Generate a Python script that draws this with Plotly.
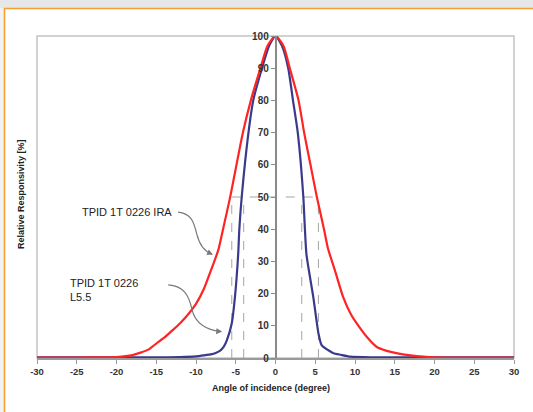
import plotly.graph_objects as go

# ---- data ----
ira_x = [-30, -25, -22, -20, -18, -16, -15, -14, -13, -12, -11, -10, -9, -8, -7.2, -6.6, -5.7,
         -4.1, -3.1, -1.9, -1, 0, 1, 1.8, 2.9, 3.6, 4.4, 5.2, 6.1, 6.6, 7.5, 8.5, 9.5,
         10.2, 11.5, 12.7, 14, 15.2, 17, 18.6, 20, 25, 30]
ira_y = [0.1, 0.15, 0.2, 0.3, 0.9, 2.6, 4.5, 6.3, 8.5, 10.8, 13.5, 16.8, 21.5, 28, 33.5, 40, 50,
         70, 80, 90, 97, 100, 97, 90, 80, 70, 60, 50, 40, 34, 27, 19, 13.5,
         10.8, 6.5, 3.5, 2.2, 1.5, 0.8, 0.4, 0.2, 0.1, 0.1]

l55_x = [-30, -20, -15, -12, -10, -9, -8, -7.6, -7, -6.5, -6.1, -5.5, -5.1, -4.7, -4.55, -4.25,
         -3.4, -2.8, -1.7, -0.8, 0, 0.8, 1.6, 2.2, 2.8, 3.5, 3.7, 3.9, 4.75, 5.4, 5.8, 6.9,
         7.3, 8.2, 9.4, 12, 20, 30]
l55_y = [0.2, 0.2, 0.2, 0.3, 0.5, 0.8, 1.2, 1.5, 2.2, 3.5, 5.6, 10.8, 19, 32, 40, 50,
         70, 80, 90, 97, 100, 97, 90, 80, 70, 50, 40, 32, 19, 7.7, 4, 2,
         1.5, 1, 0.4, 0.2, 0.2, 0.2]

half_level = 50
half_x = [-5.5, -4.0, 3.3, 5.4]

x_ticks = list(range(-30, 31, 5))
y_ticks = list(range(0, 101, 10))

label_ira = "TPID 1T 0226 IRA"
label_l55 = "TPID 1T 0226<br>L5.5"
x_title = "Angle of incidence (degree)"
y_title = "Relative Responsivity [%]"

# ---- figure ----
W, H = 533, 412
ML, MR, MT, MB = 37, 19, 36, 54
PW, PH = W - ML - MR, H - MT - MB


def px(xp):
    return (xp - ML) / PW


def py(yp):
    return 1 - (yp - MT) / PH


fig = go.Figure()

fig.add_trace(go.Scatter(x=l55_x, y=l55_y, mode="lines",
                         line=dict(color="#3a3a8c", width=2.2, shape="spline", smoothing=0.6),
                         hoverinfo="skip", showlegend=False))
fig.add_trace(go.Scatter(x=ira_x, y=ira_y, mode="lines",
                         line=dict(color="#ff2424", width=2.2, shape="spline", smoothing=0.6),
                         hoverinfo="skip", showlegend=False))

shapes = []
# outer page background pieces
shapes.append(dict(type="rect", xref="paper", yref="paper", layer="below",
                   x0=px(-50), x1=px(600), y0=py(-50), y1=py(8.5),
                   fillcolor="#e6e7e9", line=dict(width=0)))
shapes.append(dict(type="rect", xref="paper", yref="paper", layer="below",
                   x0=px(-50), x1=px(4.5), y0=py(8.5), y1=py(700),
                   fillcolor="#f2f2f2", line=dict(width=0)))
shapes.append(dict(type="rect", xref="paper", yref="paper", layer="below",
                   x0=px(4.5), x1=px(700), y0=py(8.5), y1=py(700),
                   fillcolor="white", line=dict(color="#f5a030", width=1.6)))
# plot frame
shapes.append(dict(type="rect", xref="paper", yref="paper", layer="below",
                   x0=0, x1=1, y0=0, y1=1, line=dict(color="#c4c4c4", width=1.5)))
# half-max guide lines
shapes.append(dict(type="line", xref="x", yref="y", x0=min(half_x), x1=max(half_x),
                   y0=half_level, y1=half_level, layer="below",
                   line=dict(color="#a5a5a5", width=1, dash="dash")))
for hx in half_x:
    shapes.append(dict(type="line", xref="x", yref="y", x0=hx, x1=hx, y0=0, y1=half_level,
                       layer="below", line=dict(color="#a5a5a5", width=1, dash="dash")))
# curved leader lines
shapes.append(dict(type="path", xref="x", yref="y",
                   path="M -12.26 45.3 C -10.6 44.8, -10.3 42.5, -9.9 38.5 C -9.5 34.5, -8.8 33.0, -8.0 32.3",
                   line=dict(color="#7a7a7a", width=1.2)))
shapes.append(dict(type="path", xref="x", yref="y",
                   path="M -13.5 22.7 C -11.5 22.3, -10.9 19.5, -10.5 15.0 C -10.1 10.5, -8.5 8.6, -7.0 8.3",
                   line=dict(color="#7a7a7a", width=1.2)))

annotations = []
annotations.append(dict(x=-7.86, y=32.1, ax=-8.3, ay=32.6, xref="x", yref="y",
                        axref="x", ayref="y", text="", showarrow=True, arrowhead=2,
                        arrowsize=1, arrowwidth=1.2, arrowcolor="#7a7a7a"))
annotations.append(dict(x=-6.7, y=8.2, ax=-7.3, ay=8.3, xref="x", yref="y",
                        axref="x", ayref="y", text="", showarrow=True, arrowhead=2,
                        arrowsize=1, arrowwidth=1.2, arrowcolor="#7a7a7a"))
annotations.append(dict(x=px(80), y=py(212), xref="paper", yref="paper", text=label_ira,
                        showarrow=False, xanchor="left", yanchor="middle",
                        font=dict(family="Liberation Sans, Arial", size=11, color="#222")))
annotations.append(dict(x=px(68), y=py(290), xref="paper", yref="paper", text=label_l55,
                        showarrow=False, xanchor="left", yanchor="middle", align="left",
                        font=dict(family="Liberation Sans, Arial", size=11, color="#222")))
annotations.append(dict(x=px(271), y=py(388), xref="paper", yref="paper", text=x_title,
                        showarrow=False, xanchor="center", yanchor="middle",
                        font=dict(family="Liberation Sans, Arial", size=9, color="#222",
                                  weight="bold")))
annotations.append(dict(x=px(21), y=py(194), xref="paper", yref="paper", text=y_title,
                        showarrow=False, xanchor="center", yanchor="middle", textangle=-90,
                        font=dict(family="Liberation Sans, Arial", size=9, color="#222",
                                  weight="bold")))

xtickfont = dict(family="Liberation Sans, Arial", size=9.5, color="#333", weight="bold")
ytickfont = dict(family="Liberation Sans, Arial", size=10, color="#333", weight="bold")

fig.update_layout(
    width=W, height=H,
    margin=dict(l=ML, r=MR, t=MT, b=MB),
    paper_bgcolor="white", plot_bgcolor="rgba(0,0,0,0)",
    shapes=shapes, annotations=annotations,
    xaxis=dict(range=[-30, 30], tickvals=x_ticks, ticktext=[str(v) for v in x_ticks],
               showgrid=False, zeroline=False, showline=True, linecolor="#9a9a9a",
               linewidth=1.5, ticks="outside", ticklen=4, tickcolor="#9a9a9a",
               tickfont=xtickfont, fixedrange=True),
    yaxis=dict(range=[0, 100], tickvals=y_ticks, ticktext=[str(v) for v in y_ticks],
               anchor="free", position=0.5, showgrid=False, zeroline=False,
               showline=True, linecolor="#8a8a8a", linewidth=1.5, ticks="outside",
               ticklen=4, tickcolor="#8a8a8a", tickfont=ytickfont, fixedrange=True),
)

fig.write_html("out.html", config={"displayModeBar": False},
               post_script="document.body.style.margin='0px';document.body.style.overflow='hidden';")
